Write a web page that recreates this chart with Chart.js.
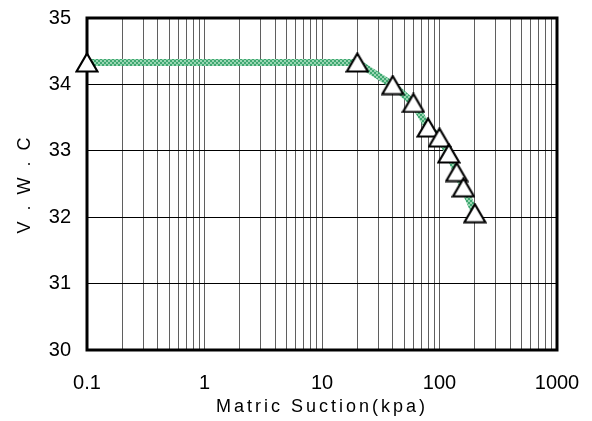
<!DOCTYPE html>
<html>
<head>
<meta charset="utf-8">
<script src="https://cdn.jsdelivr.net/npm/chart.js@4/dist/chart.umd.min.js"></script>
<style>
  html, body { margin: 0; padding: 0; background: #fff; }
  #wrap { width: 592px; height: 421px; }
</style>
</head>
<body>
<div id="wrap"><canvas id="c" width="592" height="421"></canvas></div>
<script>
// ---- data ----
const suction = [0.1, 20, 40, 60, 80, 100, 120, 140, 160, 200];
const vwc = [34.33, 34.33, 33.99, 33.72, 33.35, 33.20, 32.96, 32.68, 32.45, 32.06];
const xMajorTicks = [0.1, 1, 10, 100, 1000];
const yTicks = [30, 31, 32, 33, 34, 35];
const xTitle = 'Matric Suction(kpa)';
const yTitle = 'V . W . C';

// ---- styles ----
function makePattern() {
  const p = document.createElement('canvas');
  p.width = 4; p.height = 4;
  const g = p.getContext('2d');
  g.fillStyle = '#3fa872';
  g.fillRect(0, 0, 4, 4);
  g.fillStyle = '#9ad6b2';
  g.fillRect(0, 0, 2, 2);
  g.fillRect(2, 2, 2, 2);
  return document.getElementById('c').getContext('2d').createPattern(p, 'repeat');
}
function makeTriangle() {
  const w = 24, h = 21;
  const t = document.createElement('canvas');
  t.width = w; t.height = h;
  const g = t.getContext('2d');
  g.beginPath();
  g.moveTo(w / 2, 1.5);
  g.lineTo(w - 1.5, h - 1.5);
  g.lineTo(1.5, h - 1.5);
  g.closePath();
  g.fillStyle = '#fff';
  g.fill();
  g.lineWidth = 2.2;
  g.lineJoin = 'miter';
  g.strokeStyle = '#000';
  g.stroke();
  return t;
}

const xGridTicks = [];
xMajorTicks.forEach((m, i) => {
  if (i < xMajorTicks.length - 1) {
    for (let k = 1; k <= 9; k++) xGridTicks.push(+(m * k).toPrecision(6));
  } else xGridTicks.push(m);
});

const frame = {
  id: 'frame',
  beforeDraw(chart) {
    ['x', 'y'].forEach(id => {
      const s = chart.scales[id];
      if (s && !s._lsPatched) {
        const orig = s.drawTitle.bind(s);
        s.drawTitle = function (a) {
          const ctx = this.ctx;
          ctx.save();
          ctx.letterSpacing = '3px';
          orig(a);
          ctx.restore();
        };
        s._lsPatched = true;
      }
    });
  },
  beforeDatasetsDraw(chart) {
    const { ctx, chartArea: a } = chart;
    ctx.save();
    ctx.lineWidth = 3;
    ctx.strokeStyle = '#000';
    ctx.strokeRect(a.left, a.top, a.right - a.left, a.bottom - a.top);
    ctx.restore();
  }
};

new Chart(document.getElementById('c'), {
  type: 'line',
  data: {
    datasets: [{
      data: suction.map((x, i) => ({ x: x, y: vwc[i] })),
      borderColor: makePattern(),
      borderWidth: 7,
      pointStyle: makeTriangle(),
      pointRadius: 11,
      tension: 0,
      clip: false
    }]
  },
  options: {
    responsive: false,
    animation: false,
    devicePixelRatio: 1,
    layout: { padding: { left: 0, top: 16, right: 35, bottom: 0 } },
    plugins: { legend: { display: false }, tooltip: { enabled: false } },
    scales: {
      x: {
        type: 'logarithmic',
        min: 0.1, max: 1000,
        afterBuildTicks(s) { s.ticks = xGridTicks.map(v => ({ value: v })); },
        afterFit(s) { s.height = 71; s.paddingLeft = 0; s.paddingRight = 0; },
        grid: {
          color: 'rgb(95,95,95)',
          lineWidth: 1,
          drawTicks: false
        },
        border: { display: false },
        ticks: {
          autoSkip: false,
          maxRotation: 0,
          padding: 21,
          color: '#000',
          font: { family: 'Liberation Sans', size: 20 },
          callback(v) { return xMajorTicks.includes(+(+v).toPrecision(6)) ? String(v) : ''; }
        },
        title: {
          display: true,
          text: xTitle,
          color: '#000',
          font: { family: 'Liberation Sans', size: 18 },
          padding: { top: 0, bottom: 3 }
        }
      },
      y: {
        min: 30, max: 35,
        afterBuildTicks(s) { s.ticks = yTicks.map(v => ({ value: v })); },
        afterFit(s) { s.width = 87; s.paddingTop = 0; s.paddingBottom = 0; },
        grid: { color: '#000', lineWidth: 1, drawTicks: false },
        border: { display: false },
        ticks: {
          padding: 16,
          color: '#000',
          font: { family: 'Liberation Sans', size: 20 }
        },
        title: {
          display: true,
          text: yTitle,
          color: '#000',
          font: { family: 'Liberation Sans', size: 18 },
          padding: { top: 14, bottom: 0 }
        }
      }
    }
  },
  plugins: [frame]
});
</script>
</body>
</html>
